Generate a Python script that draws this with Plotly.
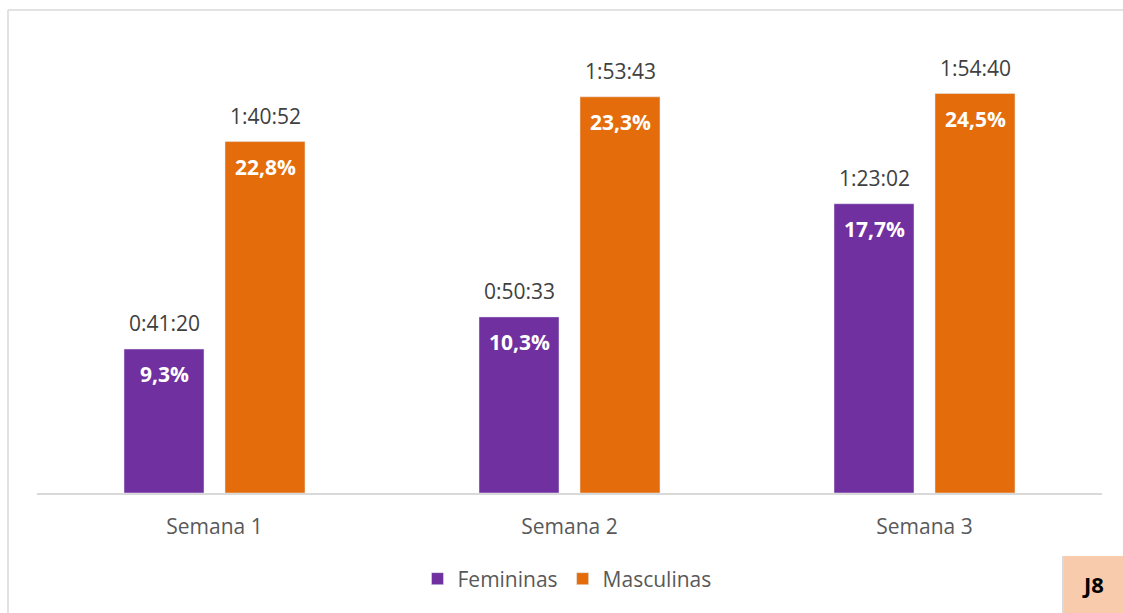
import plotly.graph_objects as go

categories = ["Semana 1", "Semana 2", "Semana 3"]
fem_times = ["0:41:20", "0:50:33", "1:23:02"]
masc_times = ["1:40:52", "1:53:43", "1:54:40"]
fem_pct = ["9,3%", "10,3%", "17,7%"]
masc_pct = ["22,8%", "23,3%", "24,5%"]

def to_sec(t):
    h, m, s = (int(v) for v in t.split(":"))
    return h * 3600 + m * 60 + s

fem_sec = [to_sec(t) for t in fem_times]
masc_sec = [to_sec(t) for t in masc_times]

PURPLE = "#7030A0"
ORANGE = "#E46C0A"
FONT = "Open Sans"
FS = 21
W, H = 1123, 613
ML, MR, MT, MB = 37, 21, 29, 120
PW, PH = W - ML - MR, H - MT - MB

def px(x):
    return (x - ML) / PW

def py(y):
    return (H - MB - y) / PH

fig = go.Figure()
fig.add_trace(go.Bar(name="Femininas", x=categories, y=fem_sec, marker_color=PURPLE,
                     hoverinfo="skip"))
fig.add_trace(go.Bar(name="Masculinas", x=categories, y=masc_sec, marker_color=ORANGE,
                     hoverinfo="skip"))

slot = 101
annotations = []
for series, times, pcts, shift in [(fem_sec, fem_times, fem_pct, -slot / 2),
                                   (masc_sec, masc_times, masc_pct, slot / 2)]:
    for c, v, t, p in zip(categories, series, times, pcts):
        annotations.append(dict(x=c, y=v, xref="x", yref="y", text=t, showarrow=False,
                                xshift=shift, yanchor="bottom", yshift=10,
                                font=dict(family=FONT, size=FS, color="#404040")))
        annotations.append(dict(x=c, y=v, xref="x", yref="y", text="<b>" + p + "</b>",
                                showarrow=False, xshift=shift, yanchor="middle", yshift=-25,
                                font=dict(family=FONT, size=FS, color="white")))

annotations.append(dict(x=px(1093), y=py(584), xref="paper", yref="paper", text="<b>J8</b>",
                        showarrow=False, xanchor="center", yanchor="middle",
                        font=dict(family=FONT, size=22, color="black")))

shapes = [
    dict(type="line", xref="paper", yref="paper", x0=px(8), x1=px(W + 5), y0=py(10), y1=py(10),
         line=dict(color="#D9D9D9", width=1.5)),
    dict(type="line", xref="paper", yref="paper", x0=px(8), x1=px(8), y0=py(10), y1=py(H + 5),
         line=dict(color="#D9D9D9", width=1.5)),
    dict(type="rect", xref="paper", yref="paper", x0=px(1063), x1=px(W + 5), y0=py(556), y1=py(H + 5),
         fillcolor="#F8CBAD", line=dict(width=0)),
    dict(type="line", xref="paper", yref="paper", x0=px(1063), x1=px(1063), y0=py(556), y1=py(H + 5),
         line=dict(color="#D9D9D9", width=2)),
]

fig.update_layout(
    width=W, height=H,
    margin=dict(l=ML, r=MR, t=MT, b=MB),
    paper_bgcolor="white", plot_bgcolor="white",
    barmode="group", bargap=0.431, bargroupgap=0.208,
    font=dict(family=FONT, size=FS, color="#595959"),
    xaxis=dict(showline=True, linecolor="#D9D9D9", linewidth=1.5, ticks="", showgrid=False,
               ticklabelstandoff=14,
               tickfont=dict(family=FONT, size=FS, color="#595959")),
    yaxis=dict(visible=False, range=[0, PH / 0.058065], showgrid=False),
    legend=dict(orientation="h", x=px(567), xanchor="center", y=py(579), yanchor="middle",
                font=dict(family=FONT, size=FS, color="#595959"), itemwidth=30),
    annotations=annotations,
    shapes=shapes,
    showlegend=True,
)

fig.write_html("out.html", config={"displayModeBar": False},
               post_script="document.body.style.margin='0';document.body.style.overflow='hidden';")
